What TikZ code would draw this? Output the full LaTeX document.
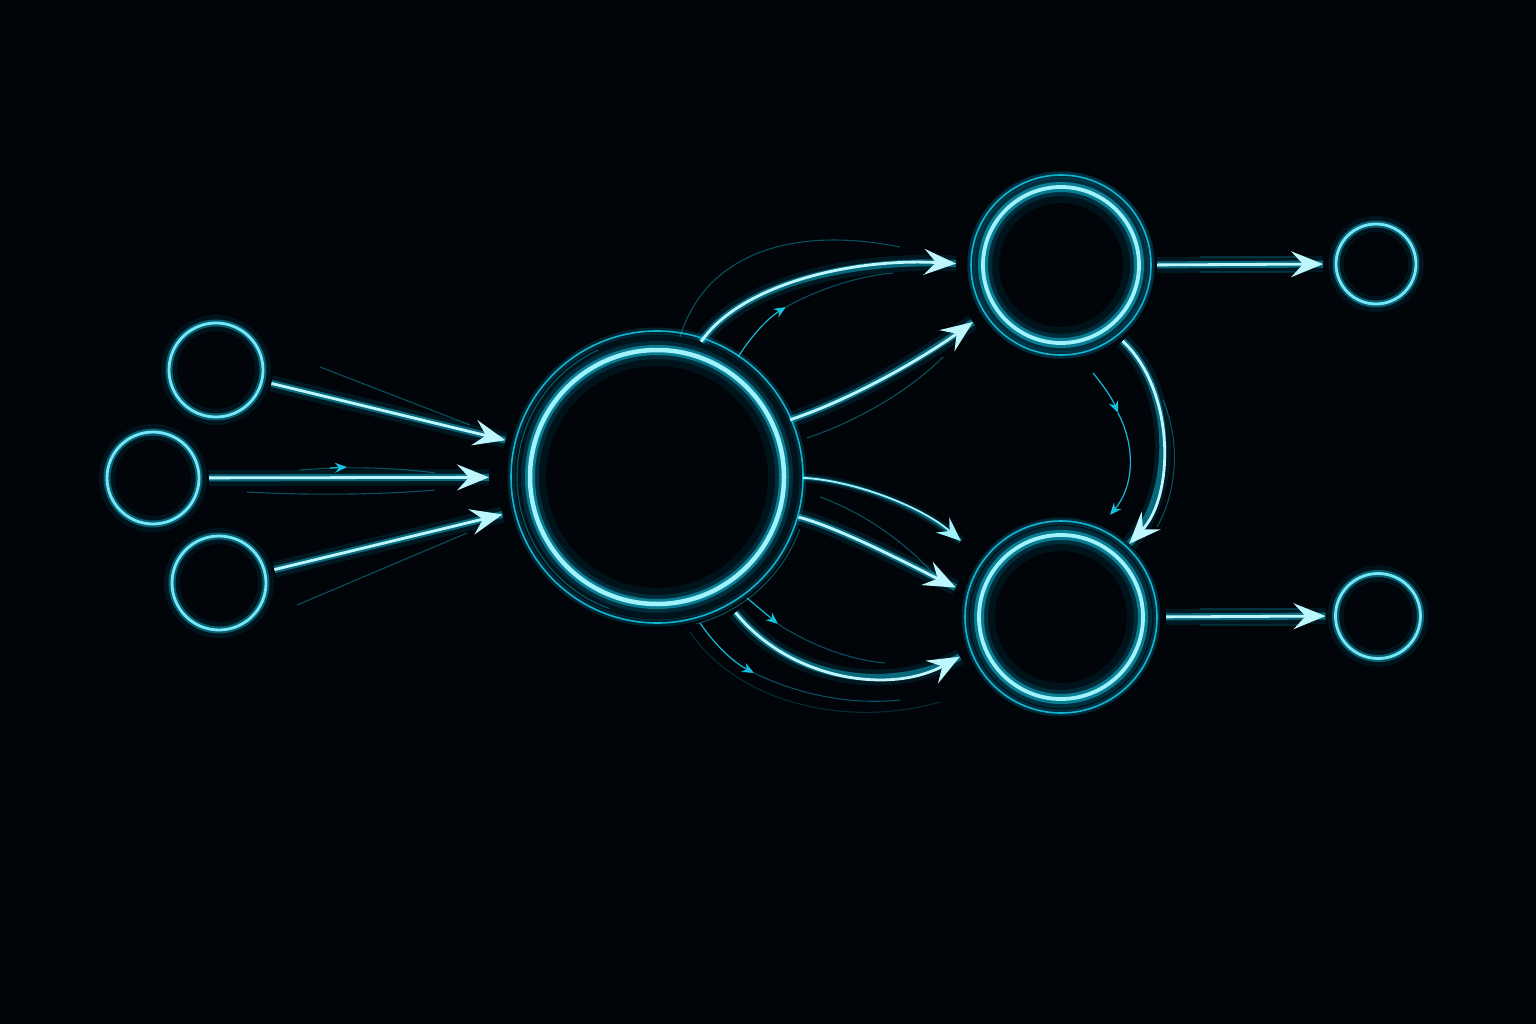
\documentclass[tikz,border=0pt]{standalone}
\usetikzlibrary{arrows.meta}
\definecolor{bg}{RGB}{1,4,8}
\definecolor{glowc}{RGB}{0,170,215}
\definecolor{neon}{RGB}{20,205,235}
\definecolor{core}{RGB}{160,242,252}
\definecolor{deep}{RGB}{0,45,65}
\definecolor{edge}{RGB}{0,105,135}
\pgfdeclareradialshading{innerglow}{\pgfpoint{0bp}{0bp}}{color(0bp)=(bg); color(30bp)=(bg); color(44bp)=(deep); color(50bp)=(edge); color(100bp)=(edge)}
\pgfdeclareradialshading{halo}{\pgfpoint{0bp}{0bp}}{color(0bp)=(bg); color(25bp)=(bg); color(29bp)=(glowc!32!bg); color(33bp)=(glowc!18!bg); color(46bp)=(bg); color(100bp)=(bg)}
\tikzset{
  ringbase/.style={circle, inner sep=0pt, outer sep=0pt},
  bigring/.style={ringbase, minimum size=#1, draw=core, line width=4.5pt,
    preaction={shade, shading=innerglow},
    preaction={draw=glowc, line width=32pt, opacity=0.09},
    preaction={draw=glowc, line width=18pt, opacity=0.18},
    preaction={draw=neon, line width=10pt, opacity=0.50}},
  smallring/.style={ringbase, minimum size=#1, draw=core!70!neon, line width=2.8pt,
    preaction={draw=glowc, line width=16pt, opacity=0.10},
    preaction={draw=neon, line width=7pt, opacity=0.40}},
  haloring/.style={draw=neon, line width=1.6pt, opacity=0.85,
    preaction={draw=glowc, line width=7pt, opacity=0.20}},
  mainarrow/.style={draw=core!70!white, line width=2.8pt,
    -{Stealth[length=32pt, width=26pt, inset=12pt]},
    preaction={draw=glowc, -, line width=16pt, opacity=0.12},
    preaction={draw=neon, -, line width=7pt, opacity=0.45}},
  midarrow/.style={draw=core, line width=1.8pt,
    -{Stealth[length=24pt, width=20pt, inset=9pt]},
    preaction={draw=glowc, -, line width=9pt, opacity=0.15},
    preaction={draw=neon, -, line width=4pt, opacity=0.35}},
  tinyarrow/.style={draw=neon, line width=1.2pt, opacity=0.9,
    -{Stealth[length=12pt, width=10pt, inset=4pt]}},
  faint/.style={draw=neon, line width=1.1pt, opacity=0.38},
}
\begin{document}
\begin{tikzpicture}[x=1pt, y=-1pt]
\useasboundingbox (0,0) rectangle (1536,1024);
\fill[bg] (0,0) rectangle (1536,1024);
% soft halos
\shade[shading=halo] (657,477) circle[radius=240];
\shade[shading=halo] (1061,265) circle[radius=150];
\shade[shading=halo] (1061,617) circle[radius=158];

% nodes
\node[smallring=94pt] (in1) at (216,370) {};
\node[smallring=92pt] (in2) at (153,478) {};
\node[smallring=94pt] (in3) at (219,583) {};
\node[bigring=254pt] (hub) at (657,477) {};
\node[bigring=156pt, line width=3.8pt] (up) at (1061,265) {};
\node[bigring=164pt, line width=3.8pt] (dn) at (1061,617) {};
\node[smallring=80pt] (out1) at (1376,264) {};
\node[smallring=85pt] (out2) at (1378,616) {};

% outer halo rings
\draw[haloring] (hub.center) circle[radius=146];
\draw[haloring] (up.center) circle[radius=90];
\draw[haloring] (dn.center) circle[radius=96];
\draw[faint] ([shift={(-115:140)}]hub.center) arc[start angle=-115, end angle=-250, radius=140];
\draw[faint] ([shift={(20:152)}]hub.center) arc[start angle=20, end angle=75, radius=152];

% left inputs
\draw[faint] (320,367) -- (470,425);
\draw[faint] (297,605) -- (467,533);
\draw[faint] (300,470) .. controls (350,466) and (400,468) .. (435,473);
\draw[faint] (247,492) .. controls (320,496) and (390,494) .. (435,490);
\draw[tinyarrow] (330,468) -- (347,467);
\draw[mainarrow, shorten <=10pt, shorten >=29pt] (in1) -- (hub);
\draw[mainarrow, shorten <=10pt, shorten >=41pt] (in2) -- (hub);
\draw[mainarrow, shorten <=10pt, shorten >=32pt] (in3) -- (hub);

% hub -> up
\draw[faint] (680,337) .. controls (705,255) and (790,225) .. (900,247);
\draw[tinyarrow] (738,357) .. controls (752,335) and (768,318) .. (786,307);
\draw[faint] (786,307) .. controls (820,288) and (860,276) .. (893,273);
\draw[faint] (807,438) .. controls (860,420) and (910,390) .. (943,357);
\draw[mainarrow, shorten <=16pt, shorten >=27pt] (hub.74) .. controls (740,285) and (850,258) .. (up.180);
\draw[mainarrow, shorten <=18pt, shorten >=27pt] (hub.24) .. controls (850,400) and (920,360) .. (up.212);

% up -> dn
\draw[faint] (1163,400) .. controls (1180,440) and (1178,490) .. (1157,527);
\draw[tinyarrow] (1093,373) .. controls (1103,385) and (1112,398) .. (1118,413);
\draw[tinyarrow] (1118,413) .. controls (1135,445) and (1135,485) .. (1110,515);
\draw[mainarrow, shorten <=20pt, shorten >=18pt] (up.-53) .. controls (1175,390) and (1175,495) .. (dn.47);

% hub -> dn
\draw[faint] (820,497) .. controls (870,515) and (915,550) .. (943,585);
\draw[midarrow, shorten <=19pt, shorten >=44pt] (hub.0) .. controls (850,480) and (920,505) .. (dn.145);
\draw[mainarrow, shorten <=20pt, shorten >=28pt] (hub.-16) .. controls (840,528) and (910,565) .. (dn.168);
\draw[tinyarrow] (747,598) -- (778,624);
\draw[faint] (778,624) .. controls (810,645) and (850,660) .. (885,663);
\draw[tinyarrow] (700,623) .. controls (715,645) and (733,662) .. (754,673);
\draw[faint] (754,673) .. controls (800,695) and (850,705) .. (900,700);
\draw[faint, opacity=0.2] (690,632) .. controls (740,705) and (850,728) .. (940,702);
\draw[mainarrow, shorten <=30pt, shorten >=27pt] (hub.-62) .. controls (790,680) and (890,695) .. (dn.199);

% outputs
\draw[faint, opacity=0.18] (1200,257) -- (1300,257);
\draw[faint, opacity=0.18] (1200,272) -- (1300,272);
\draw[faint, opacity=0.18] (1200,609) -- (1300,609);
\draw[faint, opacity=0.18] (1200,625) -- (1300,625);
\draw[mainarrow, shorten <=18pt, shorten >=13pt] (up.0) -- (out1.180);
\draw[mainarrow, shorten <=23pt, shorten >=10pt] (dn.0) -- (out2.180);
\end{tikzpicture}
\end{document}
